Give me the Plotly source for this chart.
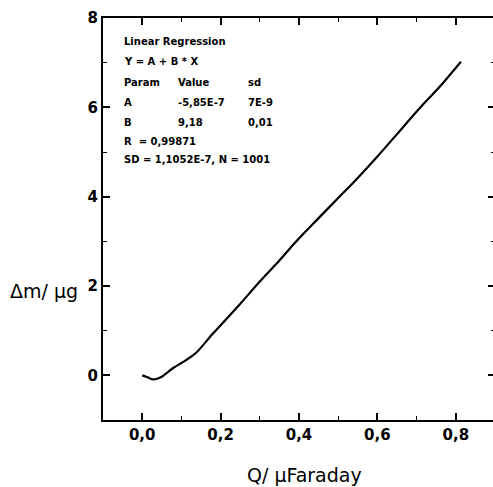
import plotly.graph_objects as go

# Data
q_values = [0.0, 0.01, 0.02, 0.027, 0.04, 0.052, 0.08, 0.11, 0.137, 0.18, 0.227, 0.248,
            0.30, 0.35, 0.392, 0.45, 0.50, 0.537, 0.60, 0.65, 0.715, 0.76, 0.813]
dm_values = [0.0, -0.03, -0.07, -0.09, -0.07, -0.02, 0.17, 0.33, 0.50, 0.93, 1.38, 1.58,
             2.10, 2.57, 2.99, 3.52, 3.97, 4.30, 4.90, 5.40, 6.05, 6.47, 7.02]

x_ticks = [0.0, 0.2, 0.4, 0.6, 0.8]
y_ticks = [0, 2, 4, 6, 8]

# Regression text block (rows of cells)
reg_rows = [
    ["Linear Regression"],
    ["Y = A + B * X"],
    ["Param", "Value", "sd"],
    ["A", "-5,85E-7", "7E-9"],
    ["B", "9,18", "0,01"],
    ["R  = 0,99871"],
    ["SD = 1,1052E-7, N = 1001"],
]

W, H = 497, 487
L, R, T, B = 103, 0, 18, 67
pw, ph = W - L - R, H - T - B

fig = go.Figure()
fig.add_trace(go.Scatter(x=q_values, y=dm_values, mode="lines",
                         line=dict(color="black", width=2.2, shape="spline", smoothing=0.8),
                         showlegend=False, hoverinfo="skip"))

axis_common = dict(
    showline=True, linecolor="black", linewidth=2, mirror="ticks",
    ticks="inside", ticklen=7, tickwidth=1.5, tickcolor="black",
    showgrid=False, zeroline=False,
    tickfont=dict(family="DejaVu Sans", size=15, color="black", weight="bold"),
)

fig.update_xaxes(range=[-0.1, 0.9], tickvals=x_ticks, tickformat=".1f",
                 minor=dict(dtick=0.1, ticks="inside", ticklen=4, tickwidth=1.2,
                            tickcolor="black", showgrid=False),
                 **axis_common)
fig.update_yaxes(range=[-1, 8], tickvals=y_ticks,
                 minor=dict(dtick=1, ticks="inside", ticklen=4, tickwidth=1.2,
                            tickcolor="black", showgrid=False),
                 **axis_common)


def px2paper(px, py):
    return (px - L) / pw, (H - B - py) / ph


annotations = []
row_y = [42, 62, 82, 102, 122, 141, 160]
col_x = [122, 176, 247]
for yy, row in zip(row_y, reg_rows):
    for i, cell in enumerate(row):
        xp, yp = px2paper(col_x[i], yy)
        annotations.append(dict(x=xp, y=yp, xref="paper", yref="paper", text=cell,
                                showarrow=False, xanchor="left", yanchor="middle",
                                font=dict(family="DejaVu Sans", size=10, color="black",
                                          weight="bold")))

xp, yp = px2paper(44, 291)
annotations.append(dict(x=xp, y=yp, xref="paper", yref="paper", text="Δm/ μg",
                        showarrow=False, xanchor="center", yanchor="middle",
                        font=dict(family="DejaVu Sans", size=19, color="black")))
xp, yp = px2paper(306, 475)
annotations.append(dict(x=xp, y=yp, xref="paper", yref="paper", text="Q/ μFaraday",
                        showarrow=False, xanchor="center", yanchor="middle",
                        font=dict(family="DejaVu Sans", size=19, color="black")))

fig.update_layout(
    width=W, height=H, autosize=False,
    margin=dict(l=L, r=R, t=T, b=B),
    paper_bgcolor="white", plot_bgcolor="white",
    separators=",.",
    annotations=annotations,
)

fig.write_html("out.html", config={"displayModeBar": False},
               post_script="document.body.style.margin='0';document.body.style.overflow='hidden';")
